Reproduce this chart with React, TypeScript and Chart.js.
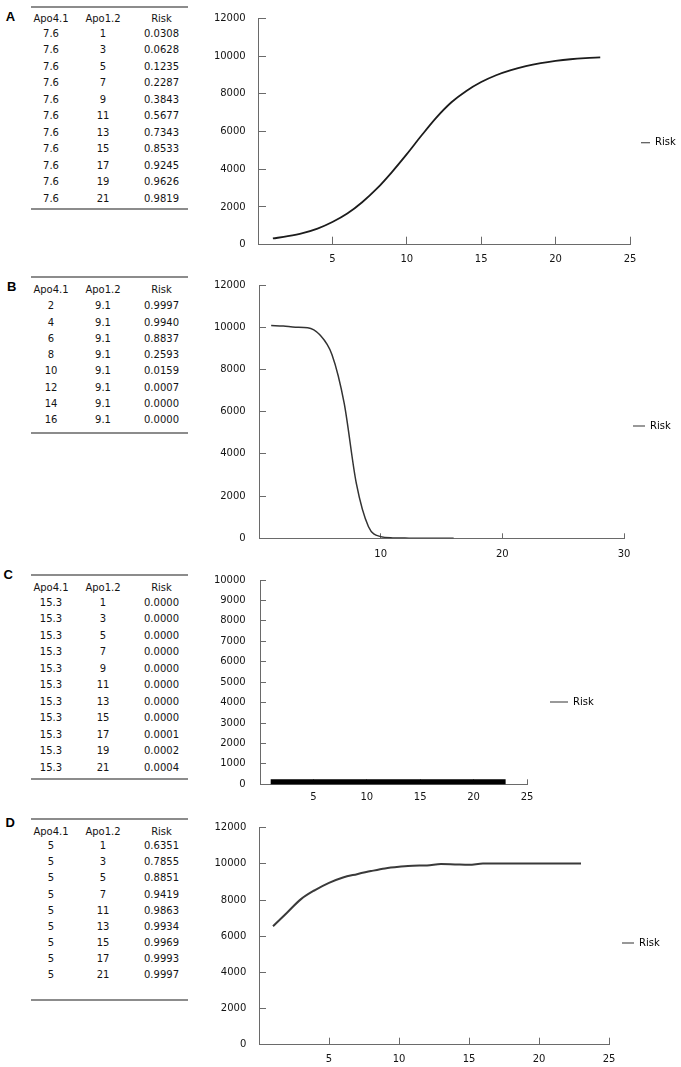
import React, { useEffect, useRef } from 'react';
import { Chart, registerables } from 'chart.js';

Chart.register(...registerables);

const FONT = "'DejaVu Sans', Verdana, sans-serif";

// ---------- Panel A ----------
const aApo41 = ['7.6', '7.6', '7.6', '7.6', '7.6', '7.6', '7.6', '7.6', '7.6', '7.6', '7.6'];
const aApo12 = ['1', '3', '5', '7', '9', '11', '13', '15', '17', '19', '21'];
const aRisk = ['0.0308', '0.0628', '0.1235', '0.2287', '0.3843', '0.5677', '0.7343', '0.8533', '0.9245', '0.9626', '0.9819'];
const aCurveX = [1, 2, 3, 4, 5, 6, 7, 8, 9, 10, 11, 12, 13, 14, 15, 16, 17, 18, 19, 20, 21, 22, 23];
const aCurveY = [330, 450, 610, 850, 1200, 1650, 2250, 2980, 3850, 4800, 5800, 6750, 7550, 8150, 8620, 8980, 9250, 9460, 9620, 9740, 9830, 9890, 9930];

// ---------- Panel B ----------
const bApo41 = ['2', '4', '6', '8', '10', '12', '14', '16'];
const bApo12 = ['9.1', '9.1', '9.1', '9.1', '9.1', '9.1', '9.1', '9.1'];
const bRisk = ['0.9997', '0.9940', '0.8837', '0.2593', '0.0159', '0.0007', '0.0000', '0.0000'];
const bCurveX = [1, 2, 3, 4, 5, 6, 7, 8, 9, 10, 11, 12, 13, 14, 15, 16];
const bCurveY = [10080, 10060, 10000, 9980, 9640, 8700, 6400, 2600, 550, 80, 20, 10, 0, 0, 0, 0];

// ---------- Panel C ----------
const cApo41 = ['15.3', '15.3', '15.3', '15.3', '15.3', '15.3', '15.3', '15.3', '15.3', '15.3', '15.3'];
const cApo12 = ['1', '3', '5', '7', '9', '11', '13', '15', '17', '19', '21'];
const cRisk = ['0.0000', '0.0000', '0.0000', '0.0000', '0.0000', '0.0000', '0.0000', '0.0000', '0.0001', '0.0002', '0.0004'];
const cCurveX = [1, 2, 3, 4, 5, 6, 7, 8, 9, 10, 11, 12, 13, 14, 15, 16, 17, 18, 19, 20, 21, 22, 23];
const cCurveY = [0, 0, 0, 0, 0, 0, 0, 0, 0, 0, 0, 0, 0, 0, 0, 0, 1, 1, 2, 3, 4, 5, 7];

// ---------- Panel D ----------
const dApo41 = ['5', '5', '5', '5', '5', '5', '5', '5', '5'];
const dApo12 = ['1', '3', '5', '7', '11', '13', '15', '17', '21'];
const dRisk = ['0.6351', '0.7855', '0.8851', '0.9419', '0.9863', '0.9934', '0.9969', '0.9993', '0.9997'];
const dCurveX = [1, 2, 3, 4, 5, 6, 7, 8, 9, 10, 11, 12, 13, 14, 15, 16, 17, 18, 19, 20, 21, 22, 23];
const dCurveY = [6550, 7300, 8050, 8550, 8950, 9250, 9430, 9600, 9750, 9840, 9900, 9910, 9990, 9970, 9950, 10020, 10020, 10020, 10020, 10020, 10020, 10020, 10020];

const tableHeaders = ['Apo4.1', 'Apo1.2', 'Risk'];
const seriesName = 'Risk';

// ---------- layout (page pixels) ----------
const COLS = [51, 103, 161.5];
const RULE_L = 31;
const RULE_R = 188;
const CANVAS_L = 200;

type TableLayout = { letter: string; lx: number; ly: number; ruleTop: number; header: number; rowStart: number; rowStep: number; ruleBottom: number };
type ChartLayout = {
  yTop: number; yBot: number; x0: number; R: number; legendY: number; legendPad: number; boxW: number;
  yMax: number; yStep: number; xMax: number; xStep: number; yTick: number; xTick: number; xLabelPad: number; yLabelPad: number;
  lineWidth: number; color: string;
};

const tA: TableLayout = { letter: 'A', lx: 10.5, ly: 16, ruleTop: 7, header: 19, rowStart: 33.7, rowStep: 16.5, ruleBottom: 209 };
const tB: TableLayout = { letter: 'B', lx: 11.7, ly: 286.2, ruleTop: 277.3, header: 289.3, rowStart: 306, rowStep: 16.3, ruleBottom: 432.7 };
const tC: TableLayout = { letter: 'C', lx: 8.2, ly: 574.2, ruleTop: 575.3, header: 587.7, rowStart: 602.7, rowStep: 16.5, ruleBottom: 779 };
const tD: TableLayout = { letter: 'D', lx: 10.3, ly: 822.8, ruleTop: 819, header: 831.7, rowStart: 846, rowStep: 16.1, ruleBottom: 1000 };

const cA: ChartLayout = { yTop: 18.3, yBot: 244.7, x0: 258, R: 630, legendY: 142.7, legendPad: 11, boxW: 9, yMax: 12000, yStep: 2000, xMax: 25, xStep: 5, yTick: 8, xTick: 8, xLabelPad: 15.6, yLabelPad: 20, lineWidth: 1.8, color: '#1c1c1c' };
const cB: ChartLayout = { yTop: 285, yBot: 538.3, x0: 259, R: 624, legendY: 426, legendPad: 9, boxW: 12, yMax: 12000, yStep: 2000, xMax: 30, xStep: 10, yTick: 7, xTick: 5, xLabelPad: 16.7, yLabelPad: 20.3, lineWidth: 1.5, color: '#333333' };
const cC: ChartLayout = { yTop: 580, yBot: 784.3, x0: 260, R: 527, legendY: 702, legendPad: 23, boxW: 18, yMax: 10000, yStep: 1000, xMax: 25, xStep: 5, yTick: 6, xTick: 5, xLabelPad: 14.4, yLabelPad: 20.3, lineWidth: 10, color: '#000000' };
const cD: ChartLayout = { yTop: 827.7, yBot: 1044.7, x0: 259, R: 609, legendY: 943, legendPad: 13, boxW: 12, yMax: 12000, yStep: 2000, xMax: 25, xStep: 5, yTick: 7, xTick: 7, xLabelPad: 15.3, yLabelPad: 20, lineWidth: 2, color: '#3a3a3a' };

const AXIS = '#6a6a6a';
const TEXT = '#141414';

function DataTable({ t, c1, c2, c3 }: { t: TableLayout; c1: string[]; c2: string[]; c3: string[] }) {
  const cell = (text: string, cx: number, cy: number, key: string) => (
    <div
      key={key}
      style={{
        position: 'absolute', left: cx - 40, width: 80, top: cy - 5.8, height: 12, lineHeight: '12px',
        textAlign: 'center', fontFamily: FONT, fontSize: 10, color: TEXT, whiteSpace: 'nowrap',
      }}
    >
      {text}
    </div>
  );
  const rule = (y: number, key: string) => (
    <div key={key} style={{ position: 'absolute', left: RULE_L, width: RULE_R - RULE_L, top: y - 1, height: 2, background: '#8c8c8c' }} />
  );
  const items: any[] = [];
  items.push(
    <div key="letter" style={{
      position: 'absolute', left: t.lx - 10, width: 20, top: t.ly - 6.4, height: 13, lineHeight: '13px',
      textAlign: 'center', fontFamily: "'Liberation Sans', Arial, sans-serif", fontWeight: 'bold', fontSize: 13, color: '#000',
    }}>{t.letter}</div>
  );
  items.push(rule(t.ruleTop, 'rt'));
  tableHeaders.forEach((h, i) => items.push(cell(h, COLS[i], t.header, 'h' + i)));
  c1.forEach((v, r) => {
    const y = t.rowStart + r * t.rowStep;
    items.push(cell(v, COLS[0], y, 'a' + r));
    items.push(cell(c2[r], COLS[1], y, 'b' + r));
    items.push(cell(c3[r], COLS[2], y, 'c' + r));
  });
  items.push(rule(t.ruleBottom, 'rb'));
  return <>{items}</>;
}

function RiskChart({ c, xs, ys }: { c: ChartLayout; xs: number[]; ys: number[] }) {
  const ref = useRef<HTMLCanvasElement>(null);
  const LABEL_HALF = 6; // half line height of 10px tick labels
  // bottom of the x-axis box must hold the tick labels (Chart.js clips labels to the scale box)
  const B = Math.max(c.yBot + 24, 2 * c.legendY - c.yTop);
  const legendTop = 2 * c.legendY - B;
  const delta = c.yTop - legendTop;
  let cT: number;
  let padTop: number;
  let yPad = c.yLabelPad;
  if (delta > 0.01) {
    // the y-axis' own top padding pushes the chart area below the legend box top
    cT = Math.round(c.yTop - (LABEL_HALF + c.yLabelPad));
    yPad = c.yTop - cT - LABEL_HALF;
    padTop = legendTop - cT;
  } else {
    cT = Math.round(c.yTop - 30);
    padTop = c.yTop - cT;
  }
  const innerH = B - cT;
  const H = Math.round(innerH + 30);
  const padBottom = H - innerH;
  const xAxisH = B - c.yBot;
  const yAxisW = c.x0 - CANVAS_L;
  const legendWanted = c.legendPad + c.boxW + 5 + 28;
  const W = Math.round(c.R - CANVAS_L + legendWanted);
  const legendW = W - (c.R - CANVAS_L);

  useEffect(() => {
    if (!ref.current) return;
    const font = { family: FONT, size: 10 };
    const chart = new Chart(ref.current, {
      type: 'line',
      data: {
        datasets: [{
          label: seriesName,
          data: xs.map((x, i) => ({ x, y: ys[i] })),
          borderColor: c.color,
          backgroundColor: c.color,
          borderWidth: c.lineWidth,
          pointRadius: 0,
          cubicInterpolationMode: 'monotone',
          borderCapStyle: 'butt',
          fill: false,
          clip: 0,
        } as any],
      },
      options: {
        responsive: false,
        animation: false,
        events: [],
        layout: { padding: { top: padTop, bottom: padBottom, left: 0, right: 0 } },
        plugins: {
          tooltip: { enabled: false },
          title: { display: false },
          legend: {
            display: true,
            position: 'right',
            align: 'center',
            maxWidth: legendW,
            labels: {
              boxWidth: c.boxW,
              boxHeight: 1,
              padding: c.legendPad,
              color: TEXT,
              font,
              generateLabels: () => [{
                text: seriesName, fillStyle: '#333333', strokeStyle: '#333333', lineWidth: 0, hidden: false, datasetIndex: 0,
              } as any],
            },
          },
        },
        scales: {
          x: {
            type: 'linear',
            min: 0,
            max: c.xMax,
            afterFit: (s: any) => { s.height = xAxisH; },
            border: { display: true, color: AXIS, width: 1 },
            grid: { display: true, drawOnChartArea: false, drawTicks: true, tickLength: -c.xTick, color: AXIS, lineWidth: 1 },
            ticks: {
              stepSize: c.xStep, autoSkip: false, maxRotation: 0, minRotation: 0, padding: c.xLabelPad + c.xTick - 7, color: TEXT, font,
              callback: (v: any) => (Number(v) === 0 ? '' : String(v)),
            },
          },
          y: {
            type: 'linear',
            min: 0,
            max: c.yMax,
            afterFit: (s: any) => { s.width = yAxisW; },
            border: { display: true, color: AXIS, width: 1 },
            grid: { display: true, drawOnChartArea: false, drawTicks: true, tickLength: -c.yTick, color: AXIS, lineWidth: 1 },
            ticks: {
              stepSize: c.yStep, autoSkip: false, padding: yPad, color: TEXT, font,
              callback: (v: any) => String(v),
            },
          },
        },
      } as any,
    });
    return () => chart.destroy();
  }, []);

  return (
    <canvas
      ref={ref}
      width={W}
      height={H}
      style={{ position: 'absolute', left: CANVAS_L, top: cT, width: W, height: H }}
    />
  );
}

export default function App() {
  return (
    <div style={{ position: 'absolute', left: 0, top: 0, width: 681, height: 1067, overflow: 'hidden', background: '#fff' }}>
      <DataTable t={tA} c1={aApo41} c2={aApo12} c3={aRisk} />
      <DataTable t={tB} c1={bApo41} c2={bApo12} c3={bRisk} />
      <DataTable t={tC} c1={cApo41} c2={cApo12} c3={cRisk} />
      <DataTable t={tD} c1={dApo41} c2={dApo12} c3={dRisk} />
      <RiskChart c={cA} xs={aCurveX} ys={aCurveY} />
      <RiskChart c={cB} xs={bCurveX} ys={bCurveY} />
      <RiskChart c={cC} xs={cCurveX} ys={cCurveY} />
      <RiskChart c={cD} xs={dCurveX} ys={dCurveY} />
    </div>
  );
}
